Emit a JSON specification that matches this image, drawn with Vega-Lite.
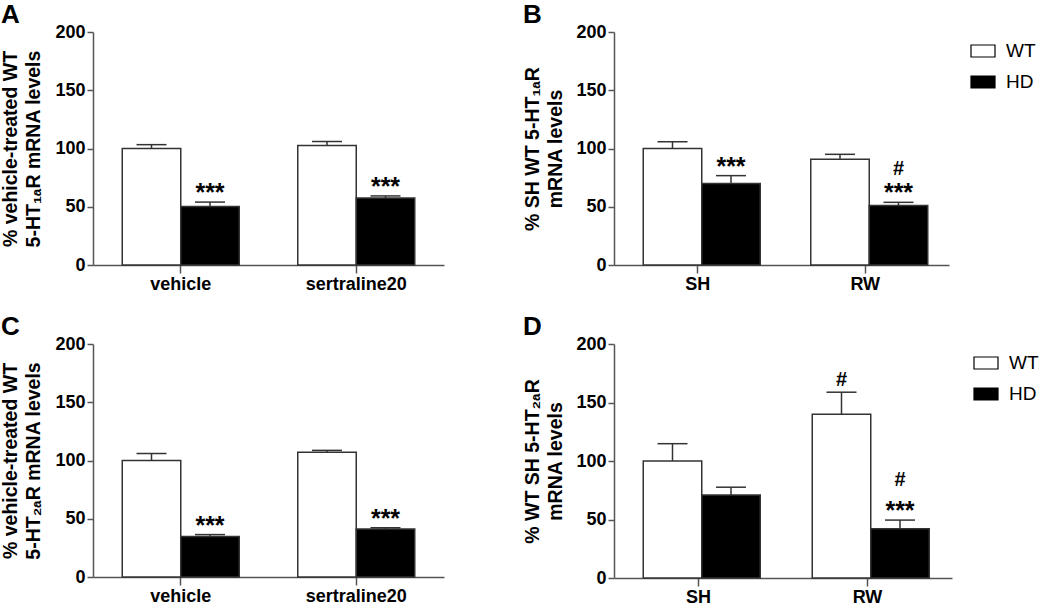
{
  "$schema": "https://vega.github.io/schema/vega-lite/v6.json",
  "padding": {"left": 0, "top": 2, "right": 0, "bottom": 0},
  "background": "#ffffff",
  "datasets": {
    "d": [
      {"panel": "A", "cat": "vehicle", "group": "WT", "value": 100, "err": 103.3, "star": "", "hash": "", "hash2": ""},
      {"panel": "A", "cat": "vehicle", "group": "HD", "value": 50.3, "err": 54, "star": "***", "hash": "", "hash2": ""},
      {"panel": "A", "cat": "sertraline20", "group": "WT", "value": 102.5, "err": 106, "star": "", "hash": "", "hash2": ""},
      {"panel": "A", "cat": "sertraline20", "group": "HD", "value": 57.5, "err": 59.3, "star": "***", "hash": "", "hash2": ""},
      {"panel": "B", "cat": "SH", "group": "WT", "value": 100, "err": 105.8, "star": "", "hash": "", "hash2": ""},
      {"panel": "B", "cat": "SH", "group": "HD", "value": 70, "err": 76.7, "star": "***", "hash": "", "hash2": ""},
      {"panel": "B", "cat": "RW", "group": "WT", "value": 90.8, "err": 95, "star": "", "hash": "", "hash2": ""},
      {"panel": "B", "cat": "RW", "group": "HD", "value": 51, "err": 53.8, "star": "***", "hash": "", "hash2": "#"},
      {"panel": "C", "cat": "vehicle", "group": "WT", "value": 100, "err": 106, "star": "", "hash": "", "hash2": ""},
      {"panel": "C", "cat": "vehicle", "group": "HD", "value": 34.7, "err": 36.4, "star": "***", "hash": "", "hash2": ""},
      {"panel": "C", "cat": "sertraline20", "group": "WT", "value": 107, "err": 108.7, "star": "", "hash": "", "hash2": ""},
      {"panel": "C", "cat": "sertraline20", "group": "HD", "value": 41.1, "err": 42.3, "star": "***", "hash": "", "hash2": ""},
      {"panel": "D", "cat": "SH", "group": "WT", "value": 100, "err": 114.8, "star": "", "hash": "", "hash2": ""},
      {"panel": "D", "cat": "SH", "group": "HD", "value": 71, "err": 77.6, "star": "", "hash": "", "hash2": ""},
      {"panel": "D", "cat": "RW", "group": "WT", "value": 140, "err": 158.8, "star": "", "hash": "#", "hash2": ""},
      {"panel": "D", "cat": "RW", "group": "HD", "value": 42, "err": 49.5, "star": "***", "hash": "", "hash2": "#"}
    ]
  },
  "vconcat": [
    {
      "hconcat": [
        {
          "width": 351, "height": 233,
          "title": {"text": "A", "offset": -5},
          "data": {"name": "d"},
          "transform": [{"filter": "datum.panel === 'A'"}],
          "encoding": {
            "x": {"field": "cat", "type": "nominal", "sort": ["vehicle", "sertraline20"], "scale": {"paddingInner": 0, "paddingOuter": 0}, "axis": {"title": null, "labelAngle": 0, "tickSize": 8, "labelPadding": 2}},
            "xOffset": {"field": "group", "type": "nominal", "sort": ["WT", "HD"], "scale": {"paddingInner": 0, "paddingOuter": 0.5}}
          },
          "layer": [
            {"mark": {"type": "bar", "stroke": "#333333", "strokeWidth": 1.5},
             "encoding": {
               "y": {"field": "value", "type": "quantitative", "scale": {"domain": [0, 200]}, "axis": {"values": [0, 50, 100, 150, 200], "title": ["% vehicle-treated WT", "5-HT₁ₐR mRNA levels"], "tickSize": 6, "labelPadding": 2, "titlePadding": 11, "titleLineHeight": 23}},
               "fill": {"field": "group", "type": "nominal", "scale": {"domain": ["WT", "HD"], "range": ["#ffffff", "#000000"]}, "legend": null}}},
            {"mark": {"type": "rule", "stroke": "#333333", "strokeWidth": 1.5}, "encoding": {"y": {"field": "value", "type": "quantitative"}, "y2": {"field": "err"}}},
            {"mark": {"type": "tick", "size": 30, "thickness": 1.5, "color": "#333333", "opacity": 1}, "encoding": {"y": {"field": "err", "type": "quantitative"}}},
            {"mark": {"type": "text", "font": "Liberation Sans", "fontWeight": "bold", "fontSize": 25, "baseline": "alphabetic", "dy": -1, "color": "#000"}, "encoding": {"y": {"field": "err", "type": "quantitative"}, "text": {"field": "star"}}}
          ]
        },
        {
          "width": 335, "height": 233,
          "title": {"text": "B", "offset": -5},
          "data": {"name": "d"},
          "transform": [{"filter": "datum.panel === 'B'"}],
          "encoding": {
            "x": {"field": "cat", "type": "nominal", "sort": ["SH", "RW"], "scale": {"paddingInner": 0, "paddingOuter": 0}, "axis": {"title": null, "labelAngle": 0, "tickSize": 8, "labelPadding": 2}},
            "xOffset": {"field": "group", "type": "nominal", "sort": ["WT", "HD"], "scale": {"paddingInner": 0, "paddingOuter": 0.5}}
          },
          "layer": [
            {"mark": {"type": "bar", "stroke": "#333333", "strokeWidth": 1.5},
             "encoding": {
               "y": {"field": "value", "type": "quantitative", "scale": {"domain": [0, 200]}, "axis": {"values": [0, 50, 100, 150, 200], "title": ["% SH WT 5-HT₁ₐR", "mRNA levels"], "tickSize": 6, "labelPadding": 2, "titlePadding": 10, "titleLineHeight": 23}},
               "fill": {"field": "group", "type": "nominal", "scale": {"domain": ["WT", "HD"], "range": ["#ffffff", "#000000"]}, "legend": {}}}},
            {"mark": {"type": "rule", "stroke": "#333333", "strokeWidth": 1.5}, "encoding": {"y": {"field": "value", "type": "quantitative"}, "y2": {"field": "err"}}},
            {"mark": {"type": "tick", "size": 30, "thickness": 1.5, "color": "#333333", "opacity": 1}, "encoding": {"y": {"field": "err", "type": "quantitative"}}},
            {"mark": {"type": "text", "font": "Liberation Sans", "fontWeight": "bold", "fontSize": 25, "baseline": "alphabetic", "dy": -1, "color": "#000"}, "encoding": {"y": {"field": "err", "type": "quantitative"}, "text": {"field": "star"}}},
            {"mark": {"type": "text", "font": "Liberation Sans", "fontWeight": "bold", "fontSize": 20, "baseline": "alphabetic", "dy": -27, "color": "#000"}, "encoding": {"y": {"field": "err", "type": "quantitative"}, "text": {"field": "hash2"}}}
          ]
        }
      ],
      "spacing": 78,
      "resolve": {"scale": {"fill": "independent"}, "legend": {"fill": "independent"}}
    },
    {
      "hconcat": [
        {
          "width": 351, "height": 233,
          "title": {"text": "C", "offset": -5},
          "data": {"name": "d"},
          "transform": [{"filter": "datum.panel === 'C'"}],
          "encoding": {
            "x": {"field": "cat", "type": "nominal", "sort": ["vehicle", "sertraline20"], "scale": {"paddingInner": 0, "paddingOuter": 0}, "axis": {"title": null, "labelAngle": 0, "tickSize": 8, "labelPadding": 2}},
            "xOffset": {"field": "group", "type": "nominal", "sort": ["WT", "HD"], "scale": {"paddingInner": 0, "paddingOuter": 0.5}}
          },
          "layer": [
            {"mark": {"type": "bar", "stroke": "#333333", "strokeWidth": 1.5},
             "encoding": {
               "y": {"field": "value", "type": "quantitative", "scale": {"domain": [0, 200]}, "axis": {"values": [0, 50, 100, 150, 200], "title": ["% vehicle-treated WT", "5-HT₂ₐR mRNA levels"], "tickSize": 6, "labelPadding": 2, "titlePadding": 11, "titleLineHeight": 23}},
               "fill": {"field": "group", "type": "nominal", "scale": {"domain": ["WT", "HD"], "range": ["#ffffff", "#000000"]}, "legend": null}}},
            {"mark": {"type": "rule", "stroke": "#333333", "strokeWidth": 1.5}, "encoding": {"y": {"field": "value", "type": "quantitative"}, "y2": {"field": "err"}}},
            {"mark": {"type": "tick", "size": 30, "thickness": 1.5, "color": "#333333", "opacity": 1}, "encoding": {"y": {"field": "err", "type": "quantitative"}}},
            {"mark": {"type": "text", "font": "Liberation Sans", "fontWeight": "bold", "fontSize": 25, "baseline": "alphabetic", "dy": -1, "color": "#000"}, "encoding": {"y": {"field": "err", "type": "quantitative"}, "text": {"field": "star"}}}
          ]
        },
        {
          "width": 338, "height": 234,
          "title": {"text": "D", "offset": -5},
          "data": {"name": "d"},
          "transform": [{"filter": "datum.panel === 'D'"}],
          "encoding": {
            "x": {"field": "cat", "type": "nominal", "sort": ["SH", "RW"], "scale": {"paddingInner": 0, "paddingOuter": 0}, "axis": {"title": null, "labelAngle": 0, "tickSize": 8, "labelPadding": 2}},
            "xOffset": {"field": "group", "type": "nominal", "sort": ["WT", "HD"], "scale": {"paddingInner": 0, "paddingOuter": 0.5}}
          },
          "layer": [
            {"mark": {"type": "bar", "stroke": "#333333", "strokeWidth": 1.5},
             "encoding": {
               "y": {"field": "value", "type": "quantitative", "scale": {"domain": [0, 200]}, "axis": {"values": [0, 50, 100, 150, 200], "title": ["% WT SH 5-HT₂ₐR", "mRNA levels"], "tickSize": 6, "labelPadding": 2, "titlePadding": 10, "titleLineHeight": 23}},
               "fill": {"field": "group", "type": "nominal", "scale": {"domain": ["WT", "HD"], "range": ["#ffffff", "#000000"]}, "legend": {}}}},
            {"mark": {"type": "rule", "stroke": "#333333", "strokeWidth": 1.5}, "encoding": {"y": {"field": "value", "type": "quantitative"}, "y2": {"field": "err"}}},
            {"mark": {"type": "tick", "size": 30, "thickness": 1.5, "color": "#333333", "opacity": 1}, "encoding": {"y": {"field": "err", "type": "quantitative"}}},
            {"mark": {"type": "text", "font": "Liberation Sans", "fontWeight": "bold", "fontSize": 25, "baseline": "alphabetic", "dy": -1, "color": "#000"}, "encoding": {"y": {"field": "err", "type": "quantitative"}, "text": {"field": "star"}}},
            {"mark": {"type": "text", "font": "Liberation Sans", "fontWeight": "bold", "fontSize": 20, "baseline": "alphabetic", "dy": -6, "color": "#000"}, "encoding": {"y": {"field": "err", "type": "quantitative"}, "text": {"field": "hash"}}},
            {"mark": {"type": "text", "font": "Liberation Sans", "fontWeight": "bold", "fontSize": 20, "baseline": "alphabetic", "dy": -34, "color": "#000"}, "encoding": {"y": {"field": "err", "type": "quantitative"}, "text": {"field": "hash2"}}}
          ]
        }
      ],
      "spacing": 78,
      "resolve": {"scale": {"fill": "independent"}, "legend": {"fill": "independent"}}
    }
  ],
  "spacing": 21,
  "resolve": {"scale": {"fill": "independent"}, "legend": {"fill": "independent"}},
  "config": {
    "view": {"stroke": null},
    "axis": {"labelFont": "Liberation Sans", "labelFontWeight": "bold", "labelFontSize": 18, "labelColor": "#000000", "titleFont": "Liberation Sans", "titleFontWeight": "bold", "titleFontSize": 19.5, "titleColor": "#000000", "domainColor": "#555555", "tickColor": "#555555", "domainWidth": 1.5, "tickWidth": 1.5, "grid": false},
    "title": {"font": "Liberation Sans", "fontSize": 26, "fontWeight": "bold", "anchor": "start", "color": "#000000"},
    "legend": {"orient": "right", "offset": 15, "padding": 6, "title": null, "labelFont": "Liberation Sans", "labelFontSize": 19, "labelColor": "#000000", "symbolType": "M-1,-0.5H1V0.5H-1Z", "symbolSize": 576, "symbolStrokeColor": "#000000", "symbolStrokeWidth": 1.2, "labelOffset": 10, "rowPadding": 8}
  }
}
